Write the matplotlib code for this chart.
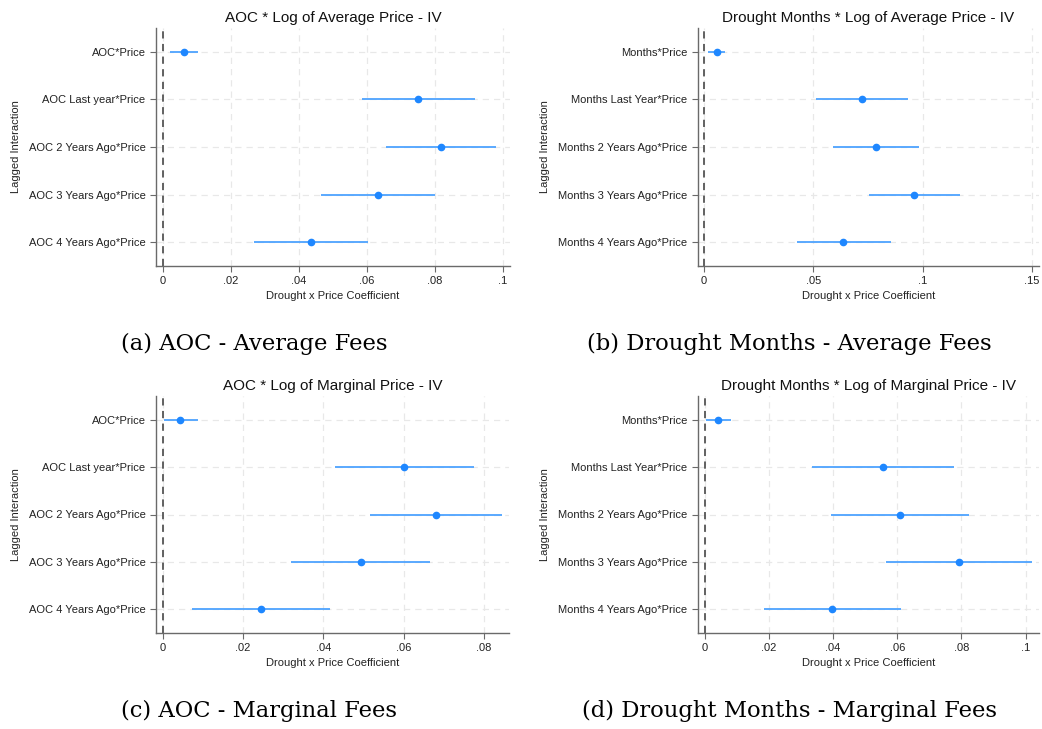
import numpy as np
import matplotlib
matplotlib.use('Agg')
import matplotlib.pyplot as plt

plt.rcParams['font.family'] = ['Liberation Sans', 'DejaVu Sans']

# labels
aoc_labels = ['AOC*Price', 'AOC Last year*Price', 'AOC 2 Years Ago*Price',
              'AOC 3 Years Ago*Price', 'AOC 4 Years Ago*Price']
months_labels = ['Months*Price', 'Months Last Year*Price', 'Months 2 Years Ago*Price',
                 'Months 3 Years Ago*Price', 'Months 4 Years Ago*Price']

# (a) AOC - average price
a_coef = [0.0061, 0.0752, 0.0819, 0.0633, 0.0435]
a_lo = [0.0020, 0.0586, 0.0657, 0.0466, 0.0268]
a_hi = [0.0103, 0.0918, 0.0981, 0.0801, 0.0604]

# (b) drought months - average price
b_coef = [0.0057, 0.0723, 0.0787, 0.0960, 0.0636]
b_lo = [0.0018, 0.0512, 0.0589, 0.0754, 0.0424]
b_hi = [0.0096, 0.0933, 0.0985, 0.1170, 0.0853]

# (c) AOC - marginal price
c_coef = [0.0044, 0.0602, 0.0680, 0.0494, 0.0245]
c_lo = [0.0002, 0.0429, 0.0516, 0.0320, 0.0072]
c_hi = [0.0087, 0.0775, 0.0846, 0.0667, 0.0418]

# (d) drought months - marginal price
d_coef = [0.0042, 0.0555, 0.0608, 0.0792, 0.0398]
d_lo = [0.0003, 0.0335, 0.0393, 0.0564, 0.0185]
d_hi = [0.0081, 0.0777, 0.0824, 0.1019, 0.0612]

W, H = 1042, 729
fig = plt.figure(figsize=(W / 100, H / 100), dpi=100)

blue = '#1e87ff'
ci_col = '#4da3ff'
grid_col = '#e8e8e8'
spine_col = '#6a6a6a'


def panel(box, labels, coef, lo, hi, xticks, xticklabels, xlim, title, caption, cap_x, cap_y, ylab_x):
    l, r, t, b = box
    ax = fig.add_axes([l / W, 1 - b / H, (r - l) / W, (b - t) / H])
    y = np.arange(len(labels))
    ax.hlines(y, lo, hi, color=ci_col, lw=1.3, zorder=3)
    ax.plot(coef, y, 'o', color=blue, ms=4.5, zorder=4)
    ax.axvline(0, color='#555555', ls=(0, (4, 3)), lw=1.3, zorder=2)
    ax.set_ylim(len(labels) - 0.5, -0.5)
    ax.set_xlim(*xlim)
    ax.set_yticks(y)
    ax.set_yticklabels(labels, fontsize=8)
    ax.set_xticks(xticks)
    ax.set_xticklabels(xticklabels, fontsize=8)
    ax.grid(True, color=grid_col, ls=(0, (5, 4)), lw=0.9, zorder=0)
    ax.set_axisbelow(True)
    for s in ['top', 'right']:
        ax.spines[s].set_visible(False)
    for s in ['left', 'bottom']:
        ax.spines[s].set_color(spine_col)
        ax.spines[s].set_linewidth(1.0)
    ax.tick_params(axis='both', colors=spine_col, labelcolor='#222222', length=4, width=0.8)
    ax.set_xlabel('Drought x Price Coefficient', fontsize=8, color='#222222', labelpad=3)
    ax.set_title(title, fontsize=11, pad=4, color='#111111')
    fig.text(ylab_x / W, 1 - ((t + b) / 2) / H, 'Lagged Interaction', rotation=90,
             ha='center', va='center', fontsize=8, color='#222222')
    fig.text(cap_x / W, 1 - cap_y / H, caption, ha='center', va='center',
             fontsize=16.3, family='DejaVu Serif')
    return ax


panel((156, 510, 28, 266), aoc_labels, a_coef, a_lo, a_hi,
      [0, 0.02, 0.04, 0.06, 0.08, 0.1], ['0', '.02', '.04', '.06', '.08', '.1'],
      (-0.002, 0.1022), 'AOC * Log of Average Price - IV',
      '(a) AOC - Average Fees', 254, 344, 16)

panel((698, 1039, 28, 266), months_labels, b_coef, b_lo, b_hi,
      [0, 0.05, 0.1, 0.15], ['0', '.05', '.1', '.15'],
      (-0.0028, 0.1532), 'Drought Months * Log of Average Price - IV',
      '(b) Drought Months - Average Fees', 789, 344, 545)

panel((156, 509, 396, 633), aoc_labels, c_coef, c_lo, c_hi,
      [0, 0.02, 0.04, 0.06, 0.08], ['0', '.02', '.04', '.06', '.08'],
      (-0.0017, 0.0863), 'AOC * Log of Marginal Price - IV',
      '(c) AOC - Marginal Fees', 259, 711, 16)

panel((698, 1039, 396, 633), months_labels, d_coef, d_lo, d_hi,
      [0, 0.02, 0.04, 0.06, 0.08, 0.1], ['0', '.02', '.04', '.06', '.08', '.1'],
      (-0.0021, 0.1042), 'Drought Months * Log of Marginal Price - IV',
      '(d) Drought Months - Marginal Fees', 789, 711, 545)

fig.savefig('out.png', dpi=100)
